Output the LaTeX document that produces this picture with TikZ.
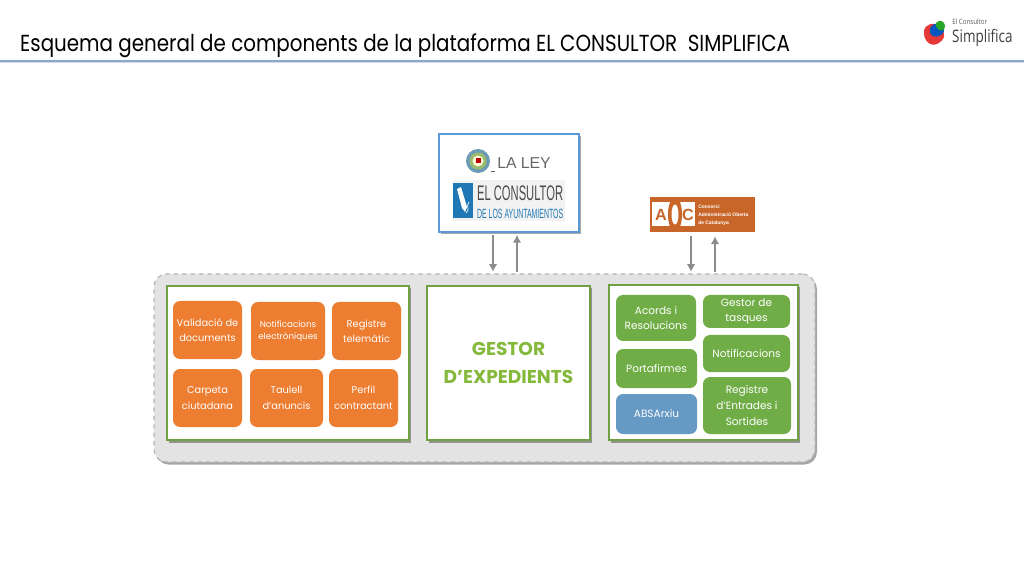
\documentclass[tikz,border=0pt]{standalone}
\usepackage{fontspec}
\setmainfont{Poppins}
\newfontfamily\logofont{Liberation Sans}
\newfontfamily\simplifont{Open Sans}
\usetikzlibrary{calc}
\usetikzlibrary{shadows}
\usetikzlibrary{arrows.meta}
\definecolor{orangebox}{HTML}{ED7D31}
\definecolor{greenbox}{HTML}{70AD47}
\definecolor{bluebox}{HTML}{6699C4}
\definecolor{greenline}{HTML}{6FA044}
\definecolor{blueline}{HTML}{5B9BD5}
\definecolor{ruleblue}{HTML}{88A9CF}
\definecolor{grayarrow}{HTML}{8C8C8C}
\definecolor{aocorange}{HTML}{C8662A}
\definecolor{consblue}{HTML}{1F78B4}
\definecolor{globeblue}{HTML}{6C9BB5}
\definecolor{globegreen}{HTML}{9CBB6E}
\tikzset{
    softshadow/.style={drop shadow={shadow xshift=2,shadow yshift=2.5,fill=black,opacity=0.35}},
    panel/.style={draw=greenline,line width=1.2pt,fill=white,softshadow,inner sep=0pt},
    orangeitem/.style={fill=orangebox,rounded corners=5pt,text=white,align=center,font=\fontsize{7}{11.5}\selectfont,inner sep=0pt},
    orangetop/.style={orangeitem,font=\fontsize{7}{10.4}\selectfont},
    greenitem/.style={fill=greenbox,rounded corners=5pt,text=white,align=center,font=\fontsize{7.5}{11.2}\selectfont,inner sep=0pt},
    blueitem/.style={greenitem,fill=bluebox},
    flowline/.style={draw=grayarrow,line width=1.4pt,-{Latex[length=5.5pt,width=6pt]}},
}
% every box is given by its corners in pixels of the slide
\newcommand{\slidebox}[7]{\node[#1,minimum width=(#5-#3)*0.025cm,minimum height=(#6-#4)*0.025cm] (#2) at ({(#3+#5)/2},{(#4+#6)/2}) {#7};}
\begin{document}
\begin{tikzpicture}[x=0.025cm,y=-0.025cm]
    \useasboundingbox (0,0) rectangle (1024,576);
    % title
    \node[anchor=base west,inner sep=0pt,font=\fontsize{16.5}{18}\selectfont,xscale=0.856,transform shape] (title) at (20,52) {Esquema general de components de la plataforma EL CONSULTOR\ \ SIMPLIFICA};
    \coordinate (ruleL) at (0,61);
    \coordinate (ruleR) at (1024,61);
    \draw[black!15,line width=1pt] (0,62.5) -- (1024,62.5);
    \draw[ruleblue,line width=1.8pt] (ruleL) -- (ruleR);
    % logo top right
    \fill[red!75!white!90!black] (924,31) .. controls (925,24) and (934,21) .. (940,27) .. controls (947,33) and (945,40) .. (937,44) .. controls (930,47) and (923,40) .. (924,31);
    \fill[blue!55!cyan!75!black] (930,29) .. controls (932,22) and (943,21) .. (944,28) .. controls (945,35) and (937,38) .. (933,36) .. controls (930,34) and (929,32) .. (930,29);
    \fill[green!60!black!85] (936,23) .. controls (939,19) and (945,21) .. (945,26) .. controls (945,31) and (940,32) .. (938,29) .. controls (936,27) and (935,25) .. (936,23);
    \node[anchor=base west,inner sep=0pt,text=black!65,font=\simplifont\fontsize{5.2}{6}\selectfont,xscale=0.85,transform shape] (elcons) at (952,24.5) {El Consultor};
    \node[anchor=base west,inner sep=0pt,text=black!75,font=\simplifont\fontsize{12.3}{14}\selectfont,xscale=0.78,transform shape] (simpl) at (952,43) {Simplifica};
    % platform
    \slidebox{draw=black!30,dashed,line width=0.8pt,fill=black!11,rounded corners=9pt,softshadow,inner sep=0pt}{plat}{154}{274}{815}{462}{}
    \slidebox{panel}{left}{167}{286}{409}{440}{}
    \slidebox{panel,text=greenbox!85!yellow,font=\fontsize{13.2}{20}\bfseries\selectfont,align=center}{gestor}{427}{286}{590}{440}{GESTOR\\D’EXPEDIENTS}
    \slidebox{panel}{right}{609}{285}{798}{440}{}
    % left group
    \slidebox{orangetop}{valid}{173}{301}{242}{359}{Validació de\\documents}
    \slidebox{orangetop,font=\fontsize{6.2}{8.6}\selectfont}{notif}{251}{302}{325}{360}{Notificacions\\electròniques}
    \slidebox{orangetop}{regtel}{332}{302}{401}{360}{Registre\\telemàtic}
    \slidebox{orangeitem}{carpeta}{173}{369}{242}{427}{Carpeta\\ciutadana}
    \slidebox{orangeitem}{taulell}{250}{369}{323}{427}{Taulell\\d’anuncis}
    \slidebox{orangeitem}{perfil}{329}{369}{398}{427}{Perfil\\contractant}
    % right group
    \slidebox{greenitem}{acords}{616}{295}{696}{341}{Acords i\\Resolucions}
    \slidebox{greenitem}{tasques}{703}{295}{790}{328}{Gestor de\\tasques}
    \slidebox{greenitem}{notific}{703}{335}{790}{372}{Notificacions}
    \slidebox{greenitem}{porta}{616}{349}{697}{388}{Portafirmes}
    \slidebox{blueitem}{abs}{616}{394}{697}{434}{ABSArxiu}
    \slidebox{greenitem}{regent}{703}{377}{791}{434}{Registre\\d’Entrades i\\Sortides}
    % la ley box
    \slidebox{draw=blueline,line width=1.2pt,fill=white,softshadow,inner sep=0pt}{ley}{439}{134}{579}{232}{}
    \fill[globeblue] (478,161) circle (12);
    \fill[globegreen] (478,161) circle (8.5);
    \fill[yellow!15!white] (478,161) circle (5.5);
    \fill[red!75!black] (475.5,158.5) rectangle (480.5,163.5);
    \draw[black!60,line width=0.5pt] (491,171) -- (495,171);
    \node[anchor=base west,inner sep=0pt,text=black!60,font=\logofont\fontsize{11.2}{14}\selectfont] (laley) at (497,169) {LA LEY};
    \fill[black!5] (453,180) rectangle (565,221);
    \fill[consblue] (453,183) rectangle (473,218);
    \fill[white] (457,189) -- (461,187) -- (467,207) -- (465,212) -- (462,208) -- cycle;
    \draw[white,line width=0.5pt] (466,213) .. controls (471,209) and (465,207) .. (469,202);
    \node[anchor=base west,inner sep=0pt,text=black!70,font=\logofont\fontsize{15}{16}\selectfont,xscale=0.53,transform shape] (cons) at (477,200.5) {EL CONSULTOR};
    \node[anchor=base west,inner sep=0pt,text=consblue,font=\logofont\fontsize{9.5}{10}\selectfont,xscale=0.52,transform shape] (ayunt) at (477,219) {DE LOS AYUNTAMIENTOS};
    % aoc logo
    \slidebox{fill=aocorange,inner sep=0pt}{aoc}{650}{197}{755}{232}{}
    \fill[white] (652,202) rectangle (695,226);
    \fill[aocorange] (675,214.5) circle [x radius=7,y radius=17.5];
    \fill[white] (675,214.5) circle [x radius=3.5,y radius=10];
    \node[text=aocorange,inner sep=0pt,font=\logofont\bfseries\fontsize{11.5}{14}\selectfont] (aocA) at (661,214.5) {A};
    \node[text=aocorange,inner sep=0pt,font=\logofont\bfseries\fontsize{11.5}{14}\selectfont] (aocC) at (688,214.5) {C};
    \node[anchor=west,text=white,align=left,inner sep=0pt,font=\logofont\bfseries\fontsize{3.5}{5.6}\selectfont] (aoctxt) at (698,215) {Consorci\\Administració Oberta\\de Catalunya};
    % arrows between the logos and the platform
    \coordinate (leyDown) at (493,250);
    \coordinate (leyUp) at (517,250);
    \coordinate (aocDown) at (691,250);
    \coordinate (aocUp) at (715,250);
    \draw[flowline] ($(leyDown |- ley.south)+(0,2)$) -- ($(leyDown |- plat.north)+(0,-1.5)$);
    \draw[flowline] ($(leyUp |- plat.north)+(0,-1.5)$) -- ($(leyUp |- ley.south)+(0,2)$);
    \draw[flowline] ($(aocDown |- aoc.south)+(0,4)$) -- ($(aocDown |- plat.north)+(0,-1.5)$);
    \draw[flowline] ($(aocUp |- plat.north)+(0,-1.5)$) -- ($(aocUp |- aoc.south)+(0,4)$);
\end{tikzpicture}
\end{document}
